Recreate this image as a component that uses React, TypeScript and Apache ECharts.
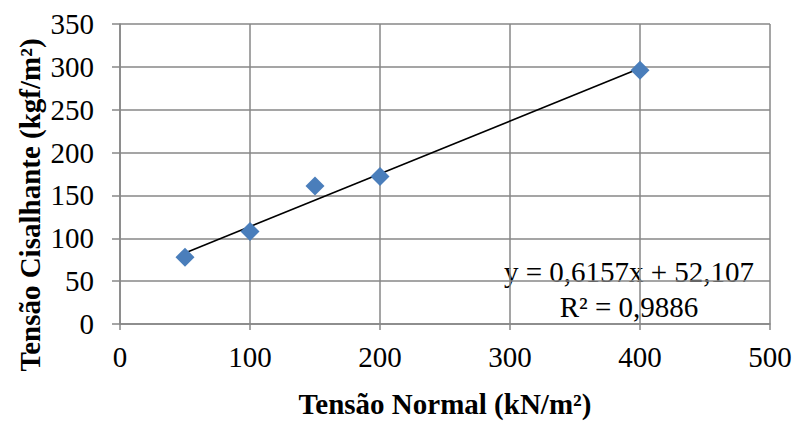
import React, { useEffect, useRef } from "react";
import * as echarts from "echarts";

const normalStress = [50, 100, 150, 200, 400];
const shearStress = [78, 108, 161, 172, 296];
const trendSlope = 0.6157;
const trendIntercept = 52.107;
const equationLines = ["y = 0,6157x + 52,107", "R² = 0,9886"];
const xAxisTitle = "Tensão Normal (kN/m²)";
const yAxisTitle = "Tensão Cisalhante (kgf/m²)";

export default function App() {
  const ref = useRef<HTMLDivElement>(null);
  useEffect(() => {
    if (!ref.current) return;
    const chart = echarts.init(ref.current, null, { renderer: "svg" });
    const xMin = Math.min(...normalStress);
    const xMax = Math.max(...normalStress);
    const trend = [
      [xMin, trendSlope * xMin + trendIntercept],
      [xMax, trendSlope * xMax + trendIntercept],
    ];
    const font = "Liberation Serif";
    const gridColor = "#878787";
    chart.setOption({
      animation: false,
      textStyle: { fontFamily: font },
      grid: { left: 120, right: 26, top: 24, bottom: 94, containLabel: false },
      xAxis: {
        type: "value",
        min: 0,
        max: 500,
        interval: 100,
        axisLine: { show: true, onZero: false, lineStyle: { color: gridColor, width: 1.5 } },
        axisTick: { show: true, length: 6, lineStyle: { color: gridColor, width: 1.5 } },
        splitLine: { show: true, lineStyle: { color: gridColor, width: 1.5 } },
        axisLabel: { color: "#000", fontFamily: font, fontSize: 29, margin: 18 },
        name: xAxisTitle,
        nameLocation: "middle",
        nameGap: 65,
        nameTextStyle: { color: "#000", fontFamily: font, fontSize: 29, fontWeight: "bold" },
      },
      yAxis: {
        type: "value",
        min: 0,
        max: 350,
        interval: 50,
        axisLine: { show: true, lineStyle: { color: gridColor, width: 1.5 } },
        axisTick: { show: true, length: 8, lineStyle: { color: gridColor, width: 1.5 } },
        splitLine: { show: true, lineStyle: { color: gridColor, width: 1.5 } },
        axisLabel: { color: "#000", fontFamily: font, fontSize: 29, margin: 26 },
      },
      graphic: [
        {
          type: "text",
          x: 30,
          y: 205,
          rotation: Math.PI / 2,
          style: {
            text: yAxisTitle,
            fill: "#000",
            fontFamily: font,
            fontSize: 29,
            fontWeight: "bold",
            textAlign: "center",
            textVerticalAlign: "middle",
          },
        },
        {
          type: "text",
          x: 629,
          y: 272,
          style: {
            text: equationLines[0],
            fill: "#000",
            fontFamily: font,
            fontSize: 29,
            textAlign: "center",
            textVerticalAlign: "middle",
          },
        },
        {
          type: "text",
          x: 629,
          y: 307,
          style: {
            text: equationLines[1],
            fill: "#000",
            fontFamily: font,
            fontSize: 29,
            textAlign: "center",
            textVerticalAlign: "middle",
          },
        },
      ],
      series: [
        {
          type: "line",
          data: trend,
          showSymbol: false,
          symbol: "none",
          lineStyle: { color: "#000", width: 1.6 },
          z: 3,
        },
        {
          type: "scatter",
          data: normalStress.map((x, i) => [x, shearStress[i]]),
          symbol: "diamond",
          symbolSize: [19, 19],
          itemStyle: { color: "#4a7ebb", opacity: 1 },
          z: 4,
        },
      ],
    });
    return () => chart.dispose();
  }, []);
  return (
    <div
      ref={ref}
      style={{ position: "absolute", left: 0, top: 0, width: 796, height: 423, background: "#fff" }}
    />
  );
}
